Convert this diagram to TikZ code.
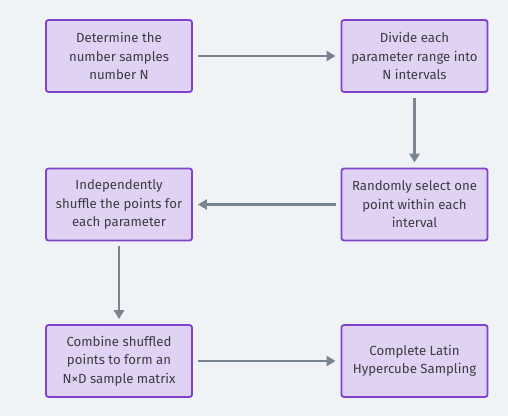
\documentclass[tikz,border=0pt]{standalone}
\usepackage{fontspec}
\setmainfont{Fira Sans}
\usepackage{xcolor}
\definecolor{back_gray}{RGB}{240,243,246}
\definecolor{box_fill}{RGB}{224,210,242}
\definecolor{box_line}{RGB}{126,66,204}
\definecolor{arrow_gray}{RGB}{122,132,144}
\definecolor{text_gray}{RGB}{60,60,68}
\usetikzlibrary{arrows.meta}

\tikzset{
  stepbox/.style={draw=box_line, line width=1.8pt, fill=box_fill, rounded corners=2.5pt,
    minimum width=146pt, minimum height=72pt, inner sep=0pt,
    align=center, text=text_gray, font=\fontsize{13.2}{18.5}\selectfont},
  flow/.style={draw=arrow_gray, line width=2.8pt, -{Triangle[length=9pt,width=10pt]},
    shorten <=5pt, shorten >=5pt}
}

\begin{document}
\begin{tikzpicture}[x=1pt, y=1pt]
\fill [back_gray] (0, 0) rectangle (508, 416);

\node [stepbox] (determine) at (119, 360) {Determine the\\number samples\\number N};
\node [stepbox] (divide) at (414.5, 360) {Divide each\\parameter range into\\N intervals};

\node [stepbox] (select) at (414.5, 211.5) {Randomly select one\\point within each\\interval};
\node [stepbox] (shuffle) at (119, 211.5) {Independently\\shuffle the points for\\each parameter};

\node [stepbox] (combine) at (119, 55) {Combine shuffled\\points to form an\\N×D sample matrix};
\node [stepbox] (complete) at (414.5, 55) {Complete Latin\\Hypercube Sampling};

\draw [flow] (determine) -- (divide);
\draw [flow] (divide) -- (select);
\draw [flow] (select) -- (shuffle);
\draw [flow] (shuffle) -- (combine);
\draw [flow] (combine) -- (complete);

\end{tikzpicture}
\end{document}
